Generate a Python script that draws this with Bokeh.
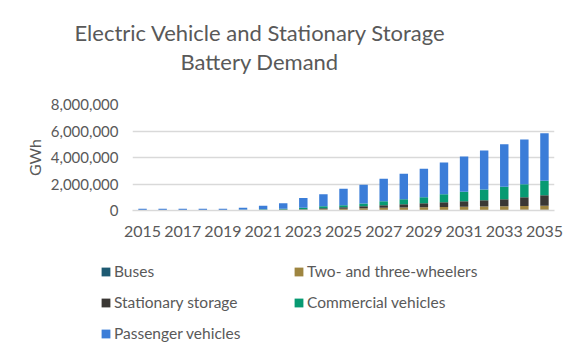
from bokeh.plotting import figure
from bokeh.models import (Title, Legend, LegendItem, FixedTicker,
                          NumeralTickFormatter, ColumnDataSource)
from bokeh.embed import file_html
from bokeh.resources import INLINE

years = list(range(2015, 2036))
year_ticks = [2015, 2017, 2019, 2021, 2023, 2025, 2027, 2029, 2031, 2033, 2035]

buses = [2000, 3000, 4000, 5000, 6000, 8000, 10000, 12000, 15000, 18000, 20000,
         25000, 28000, 30000, 33000, 36000, 40000, 43000, 46000, 50000, 55000]
two_three = [15000, 15000, 15000, 16000, 17000, 20000, 25000, 30000, 50000, 80000, 120000,
             150000, 180000, 200000, 220000, 230000, 240000, 250000, 270000, 290000, 310000]
stationary = [3000, 4000, 5000, 6000, 8000, 12000, 20000, 35000, 35000, 77000, 110000,
              150000, 192000, 245000, 297000, 359000, 420000, 482000, 534000, 660000, 795000]
commercial = [5000, 6000, 8000, 10000, 12000, 18000, 30000, 50000, 100000, 150000, 150000,
              205000, 300000, 375000, 450000, 605000, 710000, 815000, 940000, 990000, 1080000]
passenger = [105000, 102000, 98000, 93000, 87000, 142000, 265000, 423000, 750000, 905000, 1240000,
             1410000, 1690000, 1920000, 2150000, 2390000, 2670000, 2940000, 3210000, 3370000, 3590000]

series = ["buses", "two_three", "stationary", "commercial", "passenger"]
names = ["Buses", "Two- and three-wheelers", "Stationary storage",
         "Commercial vehicles", "Passenger vehicles"]
colors = ["#1D5A72", "#9E8540", "#3A3734", "#079A72", "#3B7DD8"]

y_ticks = [0, 2000000, 4000000, 6000000, 8000000]

data = dict(year=years, buses=buses, two_three=two_three, stationary=stationary,
            commercial=commercial, passenger=passenger)
source = ColumnDataSource(data=data)

FONT = "Lato"
GREY = "#595959"

p = figure(width=581, height=245, x_range=(2014.5, 2035.5), y_range=(0, 8000000),
           output_backend="svg", toolbar_location=None, title=None,
           min_border_left=132, min_border_right=27, min_border_top=104, min_border_bottom=35)

renderers = p.vbar_stack(series, x="year", width=0.42, color=colors, source=source,
                         line_color=None)

p.outline_line_color = None
p.xgrid.grid_line_color = None
p.ygrid.grid_line_color = "#D9D9D9"
p.ygrid.grid_line_width = 1.5

p.yaxis.ticker = FixedTicker(ticks=y_ticks)
p.yaxis.formatter = NumeralTickFormatter(format="0,0")
p.yaxis.axis_line_color = None
p.yaxis.major_tick_line_color = None
p.yaxis.minor_tick_line_color = None
p.yaxis.major_tick_out = 0
p.yaxis.major_label_standoff = 14
p.yaxis.major_label_text_font = FONT
p.yaxis.major_label_text_font_size = "15px"
p.yaxis.major_label_text_color = GREY
p.yaxis.axis_label = "GWh"
p.yaxis.axis_label_text_font = FONT
p.yaxis.axis_label_text_font_size = "16px"
p.yaxis.axis_label_text_font_style = "normal"
p.yaxis.axis_label_text_color = GREY
p.yaxis.axis_label_standoff = 4

p.xaxis.ticker = FixedTicker(ticks=year_ticks)
p.xaxis.axis_line_color = "#D9D9D9"
p.xaxis.axis_line_width = 1.5
p.xaxis.major_tick_line_color = None
p.xaxis.minor_tick_line_color = None
p.xaxis.major_tick_out = 0
p.xaxis.major_label_standoff = 15
p.xaxis.major_label_text_font = FONT
p.xaxis.major_label_text_font_size = "16px"
p.xaxis.major_label_text_color = GREY

# spacer + two title lines (last added is outermost)
p.add_layout(Title(text=" ", text_font_size="25px", standoff=0), "above")
p.add_layout(Title(text="Battery Demand", align="left", offset=48, standoff=0,
                   text_font=FONT, text_font_size="22px", text_font_style="normal",
                   text_color=GREY), "above")
p.add_layout(Title(text="Electric Vehicle and Stationary Storage", align="left", offset=-58,
                   standoff=0, text_font=FONT, text_font_size="22px",
                   text_font_style="normal", text_color=GREY), "above")

# legend panel (separate root, no frame alignment)
lg = figure(width=581, height=109, x_range=(0, 1), y_range=(0, 1),
            output_backend="svg", toolbar_location=None,
            min_border=0, min_border_left=0, min_border_right=0,
            min_border_top=0, min_border_bottom=0)
lg.axis.visible = False
lg.grid.visible = False
lg.outline_line_color = None
lsrc = ColumnDataSource(data=data)  # bars lie outside this figure's view
key_renderers = lg.vbar_stack(series, x="year", width=0.42, color=colors, source=lsrc,
                              line_color=None)

order = [0, 2, 4, 1, 3]
items = [LegendItem(label=names[i], renderers=[key_renderers[i]]) for i in order]
legend = Legend(items=items, location=(100, 11), orientation="vertical", ncols=2,
                glyph_width=11, glyph_height=11, label_standoff=3, label_width=168,
                label_height=20, spacing=11, padding=0, margin=0,
                border_line_color=None, background_fill_alpha=0,
                label_text_font=FONT, label_text_font_size="15.5px", label_text_color=GREY)
lg.add_layout(legend, "center")

open("out.html", "w").write(file_html([p, lg], INLINE))
